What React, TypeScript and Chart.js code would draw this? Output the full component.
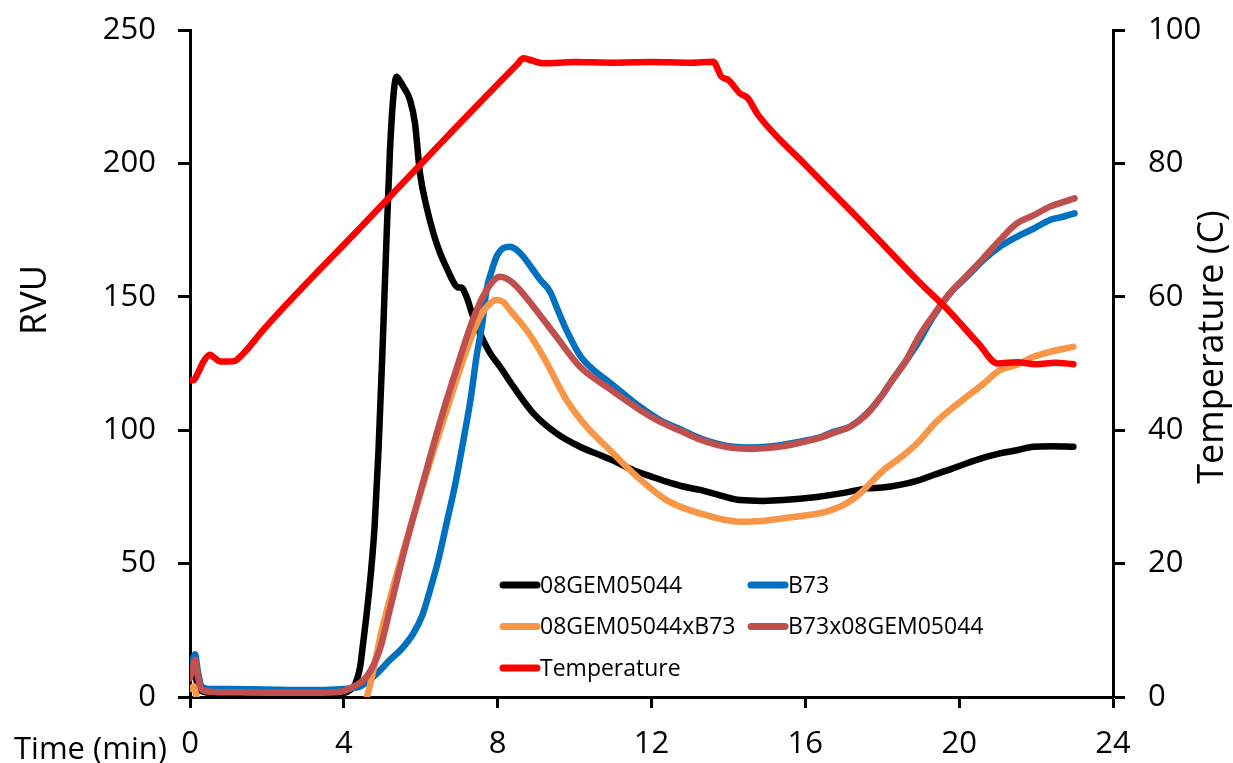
import React, { useEffect, useRef } from "react";
import { Chart, registerables } from "chart.js";
Chart.register(...registerables);

const FONT = "'Open Sans', 'Noto Sans', sans-serif";

const xTickStep = 4;
const xRange = [0, 24];
const rvuRange = [0, 250];
const rvuStep = 50;
const tempRange = [0, 100];
const tempStep = 20;

const seriesLabels = ["08GEM05044", "B73", "08GEM05044xB73", "B73x08GEM05044", "Temperature"];
const seriesColors = ["#000000", "#0070C0", "#F79646", "#C0504D", "#FF0000"];

const gemTime = [0, 0.1, 0.2, 0.35, 0.6, 1.0, 2.0, 3.0, 3.8, 4.16, 4.3, 4.42, 4.5, 4.6, 4.7, 4.8, 4.9, 5.0, 5.1, 5.2, 5.3, 5.37, 5.45, 5.55, 5.72, 5.85, 5.98, 6.15, 6.33, 6.5, 6.7, 6.85, 6.97, 7.05, 7.19, 7.35, 7.54, 7.8, 8.06, 8.41, 8.93, 9.53, 10.14, 10.66, 11.1, 11.53, 12.0, 12.39, 12.8, 13.26, 13.8, 14.3, 14.9, 15.43, 16.3, 17.0, 17.6, 18.0, 18.46, 18.9, 19.33, 19.8, 20.2, 20.6, 21.06, 21.5, 21.93, 22.4, 22.97];
const gemRVU = [9, 11, 4, 2, 1.5, 1.2, 1.0, 1.0, 1.0, 2.6, 5, 11, 20, 32, 46, 64, 92, 128, 168, 205, 227, 232.5, 231, 228.7, 223.8, 215, 196.3, 183.8, 173.8, 166.5, 160, 155.5, 153.5, 153.5, 150, 143, 136.3, 129, 123.8, 116.3, 106.3, 98.8, 93.8, 90.7, 88, 85, 82.6, 80.7, 79, 77.6, 75.5, 73.8, 73.5, 73.8, 75, 76.5, 78.2, 78.5, 79.5, 81, 83.2, 85.5, 87.6, 89.5, 91.3, 92.5, 93.8, 94.0, 93.8];

const b73Time = [0, 0.08, 0.13, 0.2, 0.3, 0.5, 1.0, 2.0, 3.0, 3.8, 4.2, 4.42, 4.8, 5.2, 5.5, 5.81, 6.05, 6.24, 6.45, 6.67, 6.9, 7.11, 7.3, 7.45, 7.6, 7.71, 7.85, 7.97, 8.15, 8.32, 8.5, 8.67, 8.9, 9.1, 9.36, 9.55, 9.79, 10.14, 10.5, 10.83, 11.2, 11.7, 12.22, 12.8, 13.26, 13.7, 14.13, 14.6, 15.0, 15.4, 15.86, 16.3, 16.73, 17.16, 17.6, 18.03, 18.2, 18.63, 18.9, 19.3, 19.76, 20.2, 20.63, 21.06, 21.5, 21.93, 22.36, 22.7, 23.0];
const b73RVU = [8, 14, 16, 10, 4, 3, 3, 2.8, 2.6, 2.8, 3.3, 3.9, 8, 13.9, 18, 23.9, 31, 40, 51, 65, 80, 96.3, 112, 127.5, 140, 152.5, 160, 165, 168.3, 168.8, 167.5, 165, 160.5, 156.5, 152, 145.5, 137.5, 128, 122.5, 118.8, 114.5, 108.8, 103.8, 100, 97, 95, 93.8, 93.5, 93.8, 94.5, 95.7, 97, 99.4, 101.3, 106.3, 113.8, 117.5, 126.3, 132, 142, 151.3, 157.5, 163.8, 168.8, 172.5, 175.5, 178.8, 180, 181.3];

const crossATime = [0, 0.1, 0.2, 0.3, 0.5, 1.0, 2.0, 3.0, 4.0, 4.5, 4.6, 5.03, 5.63, 6.15, 6.76, 7.19, 7.54, 7.8, 7.97, 8.15, 8.32, 8.75, 9.19, 9.79, 10.31, 10.83, 11.53, 12.39, 13.26, 14.3, 14.9, 15.43, 16.0, 16.55, 17.0, 17.42, 17.68, 18.03, 18.5, 18.9, 19.41, 19.76, 20.2, 20.6, 21.06, 21.5, 21.93, 22.4, 22.97];
const crossARVU = [3, 4, -2, -4, -4, -4, -4, -4, -4, -3, 0, 27.6, 58.8, 83.8, 111.3, 130, 142.5, 147.5, 148.8, 148, 145, 137.5, 127.5, 111.3, 101.3, 93.8, 83.8, 73.8, 68.8, 65.7, 66, 67, 68, 69.5, 72, 76.3, 80, 85, 90, 95, 103.2, 107.6, 112.6, 117, 122.5, 124.5, 127.5, 129.5, 131.3];

const crossBTime = [0, 0.08, 0.13, 0.2, 0.3, 0.5, 1.0, 2.0, 3.0, 3.8, 4.0, 4.25, 4.59, 4.94, 5.2, 5.63, 6.07, 6.5, 6.93, 7.37, 7.71, 8.06, 8.41, 8.93, 9.53, 10.14, 10.83, 11.7, 12.22, 12.8, 13.26, 13.7, 14.13, 14.6, 15.0, 15.4, 15.86, 16.3, 16.73, 17.16, 17.6, 18.03, 18.2, 18.63, 18.9, 19.3, 19.76, 20.2, 20.63, 21.06, 21.5, 21.93, 22.36, 22.7, 23.0];
const crossBRVU = [7, 12, 14, 8, 3, 2, 1.8, 1.6, 1.6, 1.8, 2.2, 3.9, 7.5, 18, 33, 58, 81, 103, 123, 142, 152.5, 157.5, 155, 146.3, 135, 123.8, 116.3, 107.6, 103.2, 99.5, 96.5, 94.5, 93.3, 93, 93.3, 94, 95.3, 96.8, 99, 101.3, 106, 113.8, 117.5, 126.3, 133.8, 142.5, 151.3, 158, 164.5, 171.3, 177.5, 180.5, 183.8, 185.5, 186.9];

const tempTime = [0, 0.09, 0.2, 0.35, 0.52, 0.65, 0.78, 1.0, 1.17, 1.3, 1.47, 1.9, 4.42, 8.5, 8.67, 8.85, 9.19, 10, 11, 12, 13, 13.6, 13.82, 14.0, 14.3, 14.5, 14.78, 16.0, 17.5, 19.0, 19.68, 20.5, 21.0, 21.5, 22.0, 22.5, 22.97];
const tempC = [47.5, 47.5, 48.5, 50.3, 51.3, 50.8, 50.3, 50.3, 50.4, 51, 52, 55, 70.3, 94.8, 95.75, 95.5, 95.0, 95.2, 95.1, 95.2, 95.1, 95.25, 93.0, 92.5, 90.5, 89.8, 87.2, 79.8, 71.0, 62.0, 58.2, 53.0, 50.0, 50.2, 49.9, 50.1, 49.9];

const toPoints = (xs: number[], ys: number[]) => xs.map((x, i) => ({ x, y: ys[i] }));

const overlayPlugin = {
  id: "overlay",
  afterDraw(chart: any) {
    const ctx = chart.ctx as CanvasRenderingContext2D;
    ctx.save();
    // legend (two columns, filled row-wise)
    ctx.font = `23px ${FONT}`;
    ctx.textBaseline = "middle";
    ctx.textAlign = "left";
    chart.data.datasets.forEach((ds: any, i: number) => {
      const col = i % 2;
      const row = Math.floor(i / 2);
      const x = 500 + col * 248;
      const y = 585 + row * 41.5;
      ctx.strokeStyle = ds.borderColor;
      ctx.lineWidth = 7;
      ctx.lineCap = "round";
      ctx.beginPath();
      ctx.moveTo(x + 3, y);
      ctx.lineTo(x + 37, y);
      ctx.stroke();
      ctx.fillStyle = "#000";
      ctx.fillText(ds.label, x + 40, y + 1);
    });
    // axis titles
    ctx.fillStyle = "#000";
    ctx.font = `36px ${FONT}`;
    ctx.textAlign = "center";
    ctx.textBaseline = "middle";
    ctx.save();
    ctx.translate(36, 300);
    ctx.rotate(-Math.PI / 2);
    ctx.fillText("RVU", 0, 0);
    ctx.restore();
    ctx.save();
    ctx.translate(1213, 347);
    ctx.rotate(-Math.PI / 2);
    ctx.fillText("Temperature (C)", 0, 0);
    ctx.restore();
    ctx.font = `31px ${FONT}`;
    ctx.textAlign = "left";
    ctx.textBaseline = "alphabetic";
    ctx.fillText("Time (min)", 14, 759);
    ctx.restore();
  },
};

const noPad = (s: any) => {
  s.paddingTop = 0;
  s.paddingBottom = 0;
  s.paddingLeft = 0;
  s.paddingRight = 0;
};

export default function App() {
  const ref = useRef<HTMLCanvasElement | null>(null);
  useEffect(() => {
    if (!ref.current) return;
    const series = [
      toPoints(gemTime, gemRVU),
      toPoints(b73Time, b73RVU),
      toPoints(crossATime, crossARVU),
      toPoints(crossBTime, crossBRVU),
      toPoints(tempTime, tempC),
    ];
    const drawOrder = [4, 3, 2, 1, 0];
    const datasets = series.map((data, i) => ({
      label: seriesLabels[i],
      data,
      borderColor: seriesColors[i],
      backgroundColor: seriesColors[i],
      borderWidth: 6.5,
      pointRadius: 0,
      borderCapStyle: "round" as const,
      borderJoinStyle: "round" as const,
      cubicInterpolationMode: "monotone" as const,
      yAxisID: i === 4 ? "y1" : "y",
      order: drawOrder[i],
      fill: false,
    }));
    const tickFont = { family: FONT, size: 31 };
    const chart = new Chart(ref.current, {
      type: "line",
      data: { datasets },
      options: {
        responsive: false,
        animation: false,
        devicePixelRatio: 1,
        layout: { padding: { top: 30, left: 0, right: 0, bottom: 0 } },
        plugins: { legend: { display: false }, tooltip: { enabled: false } },
        scales: {
          x: {
            type: "linear",
            min: xRange[0],
            max: xRange[1],
            ticks: { stepSize: xTickStep, color: "#000", font: tickFont, padding: 18, maxRotation: 0 },
            grid: { display: true, drawOnChartArea: false, drawTicks: true, tickLength: 11, tickWidth: 3, tickColor: "#000" },
            border: { display: true, color: "#000", width: 3 },
            afterFit: (s: any) => { s.height = 66; noPad(s); },
          },
          y: {
            position: "left",
            min: rvuRange[0],
            max: rvuRange[1],
            ticks: { stepSize: rvuStep, color: "#000", font: tickFont, padding: 22 },
            grid: { display: true, drawOnChartArea: false, drawTicks: true, tickLength: 12, tickWidth: 3, tickColor: "#000" },
            border: { display: true, color: "#000", width: 3 },
            afterFit: (s: any) => { s.width = 190; noPad(s); },
          },
          y1: {
            position: "right",
            min: tempRange[0],
            max: tempRange[1],
            ticks: { stepSize: tempStep, color: "#000", font: tickFont, padding: 23 },
            grid: { display: true, drawOnChartArea: false, drawTicks: true, tickLength: 12, tickWidth: 3, tickColor: "#000" },
            border: { display: true, color: "#000", width: 3 },
            afterFit: (s: any) => { s.width = 120; noPad(s); },
          },
        },
      },
      plugins: [overlayPlugin],
    });
    return () => chart.destroy();
  }, []);
  return (
    <div style={{ position: "absolute", left: 0, top: 0, width: 1233, height: 763, background: "#fff" }}>
      <canvas ref={ref} width={1233} height={763} style={{ display: "block", width: 1233, height: 763 }} />
    </div>
  );
}
